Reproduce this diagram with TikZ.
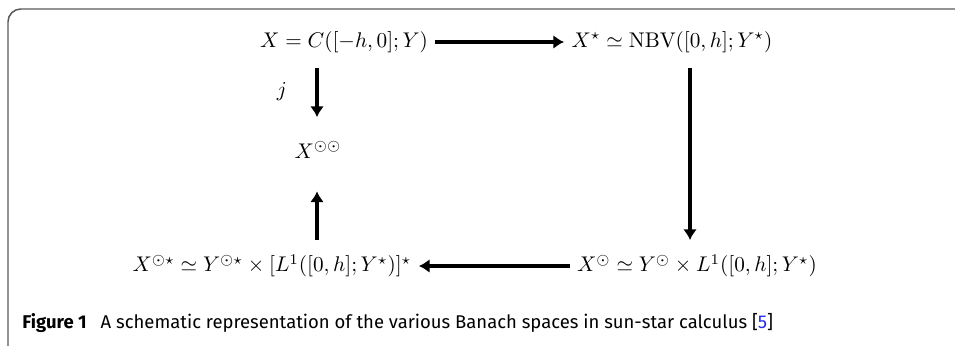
\documentclass[tikz,border=0pt]{standalone}
\usepackage{fontspec}
\setsansfont{Fira Sans}
\usetikzlibrary{arrows.meta}
\definecolor{framegray}{gray}{0.35}
\definecolor{citeblue}{rgb}{0.15,0.15,0.95}

\begin{document}
\begin{tikzpicture}[x=0.4712pt,y=-0.4712pt,
	map/.style={-{Latex[length=5pt,width=6.5pt]}, line width=1.7pt},
	vmap/.style={map, shorten <=3.6pt, shorten >=3.4pt}]
	\useasboundingbox (0,0) rectangle (955,345);
	\clip (0,0) rectangle (955,345);
	% figure frame
	\draw[framegray, line width=0.7pt, rounded corners=6pt] (960,9) -- (8,9) -- (8,370) -- (40,370);
	% spaces
	\node (xc) at (344,42) {$X=C([-h,0];Y)$};
	\node (xstar) at (672,42) {$X^\star\simeq\mathrm{NBV}([0,h];Y^\star)$};
	\node (xsunsun) at (318,150) {$X^{\odot\odot}$};
	\node (xsunstar) at (272,266) {$X^{\odot\star}\simeq Y^{\odot\star}\times[L^1([0,h];Y^\star)]^\star$};
	\node (xsun) at (697,266) {$X^{\odot}\simeq Y^{\odot}\times L^1([0,h];Y^\star)$};
	\coordinate (colL) at (317,0);
	\coordinate (colR) at (690,0);
	% maps
	\draw[map] (xc) -- (xstar);
	\draw[vmap] (xstar.south -| colR) -- (xsun.north -| colR);
	\draw[map] (xsun) -- (xsunstar);
	\draw[vmap, shorten >=12pt] (xsunstar.north -| colL) -- (xsunsun.south -| colL);
	\draw[vmap, shorten >=8pt] (xc.south -| colL) -- (xsunsun.north -| colL) node[pos=0.42, left=10pt] {$j$};
	% caption
	\node[anchor=base west, font=\sffamily\fontsize{8.7}{10}\selectfont, inner sep=0pt] (cap) at (22,328)
		{\textbf{Figure 1}\enspace\ A schematic representation of the various Banach spaces in sun-star calculus [\textcolor{citeblue}{5}]};
\end{tikzpicture}
\end{document}
